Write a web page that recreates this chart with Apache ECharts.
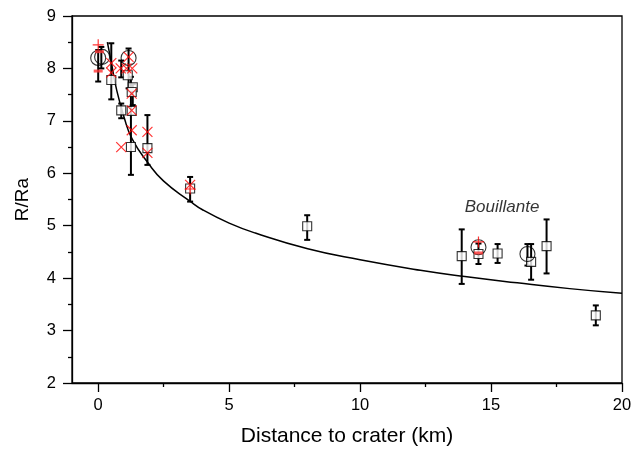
<!DOCTYPE html>
<html>
<head>
<meta charset="utf-8">
<script src="https://cdn.jsdelivr.net/npm/echarts@6/dist/echarts.min.js"></script>
<style>
  html, body { margin: 0; padding: 0; background: #fff; }
  #main { width: 643px; height: 449px; }
</style>
</head>
<body>
<div id="main"></div>
<script>
// open squares
var sqX = [0.5, 0.88, 1.13, 1.32, 1.28, 1.28, 1.25, 1.88, 3.51, 7.98, 13.88, 14.52, 15.25, 16.53, 17.12, 19.0];
var sqY = [7.78, 7.2, 7.87, 7.64, 7.55, 7.19, 6.5, 6.48, 5.71, 4.99, 4.42, 4.46, 4.47, 4.31, 4.61, 3.29];

// open circles
var ciX = [0.0, 0.15, 1.16, 14.52, 16.39];
var ciY = [8.2, 8.22, 8.2, 4.59, 4.46];

// red crosses (x)
var crX = [0.5, 0.5, 0.86, 1.08, 1.3, 1.16, 1.28, 1.28, 1.28, 0.88, 1.88, 1.88, 3.51];
var crY = [8.1, 7.92, 8.0, 8.0, 8.0, 8.22, 7.52, 7.2, 6.82, 6.5, 6.79, 6.39, 5.78];

// red plus
var plX = [0.0, 3.51, 14.52];
var plY = [8.45, 5.7, 4.69];

// red dashes
var dsX = [0.0, 0.05, 14.52];
var dsY = [7.95, 8.32, 4.48];

// error bars
var errX  = [0.0, 0.12, 0.5, 0.88, 0.88, 1.16, 1.25, 1.32, 1.88, 3.51, 7.98, 13.88, 14.52, 15.25, 16.39, 16.53, 17.12, 19.0];
var errLo = [7.75, 8.0, 7.41, 7.83, 7.05, 7.62, 5.97, 7.3, 6.16, 5.46, 4.73, 3.89, 4.27, 4.29, 4.24, 3.97, 4.09, 3.10];
var errHi = [8.35, 8.41, 8.48, 8.15, 7.33, 8.38, 7.84, 7.7, 7.11, 5.93, 5.2, 4.93, 4.66, 4.65, 4.65, 4.65, 5.12, 3.48];

// fitted curve
var fitX = [0.35, 0.5, 0.7, 1.0, 1.3, 1.9, 2.5, 3.5, 4.0, 5.0, 6.0, 8.0, 10.0, 12.3, 14.0, 16.0, 18.0, 20.0];
var fitY = [8.5, 8.12, 7.6, 7.05, 6.65, 6.2, 5.85, 5.47, 5.3, 5.05, 4.86, 4.56, 4.35, 4.15, 4.03, 3.91, 3.8, 3.71];

var xLabels = [0, 5, 10, 15, 20];
var xMinor = [2.5, 7.5, 12.5, 17.5];

function pairs(xs, ys) {
  return xs.map(function(x, i) { return [x, ys[i]]; });
}

var font = 'Liberation Sans, Arial, sans-serif';
var myChart = echarts.init(document.getElementById('main'));

var option = {
  animation: false,
  grid: { left: 72, right: 21, top: 16, bottom: 66, show: true, borderColor: '#000', borderWidth: 1.3,
    outerBoundsMode: 'none', containLabel: false },
  xAxis: [{
    type: 'value', min: -1, max: 20,
    name: 'Distance to crater (km)', nameLocation: 'middle', nameGap: 43,
    nameTextStyle: { fontSize: 21, color: '#000', fontFamily: font },
    axisLine: { onZero: false, lineStyle: { color: '#000', width: 1.3 } },
    axisTick: { show: true, length: 9, customValues: xLabels, lineStyle: { color: '#000', width: 1.3 } },
    axisLabel: { customValues: xLabels, fontSize: 16.5, color: '#000', fontFamily: font, margin: 14 },
    splitLine: { show: false }
  }, {
    type: 'value', min: -1, max: 20, position: 'bottom', offset: 0,
    axisLine: { show: false, onZero: false },
    axisTick: { show: true, length: 4, customValues: xMinor, lineStyle: { color: '#000', width: 1.3 } },
    axisLabel: { show: false },
    splitLine: { show: false }
  }],
  yAxis: {
    type: 'value', min: 2, max: 9, interval: 1,
    name: 'R/Ra', nameLocation: 'middle', nameGap: 40,
    nameTextStyle: { fontSize: 19, color: '#000', fontFamily: font },
    axisLine: { show: true, onZero: false, lineStyle: { color: '#000', width: 1.3 } },
    axisTick: { show: true, length: 9, lineStyle: { color: '#000', width: 1.3 } },
    minorTick: { show: true, splitNumber: 2, length: 4, lineStyle: { color: '#000', width: 1.3 } },
    axisLabel: { fontSize: 16.5, color: '#000', fontFamily: font, margin: 16 },
    splitLine: { show: false }
  },
  series: [
    {
      type: 'line', data: pairs(fitX, fitY), smooth: true, showSymbol: false,
      lineStyle: { color: '#000', width: 1.5 }, z: 2
    },
    {
      type: 'custom', data: errX.map(function(x, i) { return [x, errLo[i], errHi[i]]; }),
      renderItem: function(params, api) {
        var lo = api.coord([api.value(0), api.value(1)]);
        var hi = api.coord([api.value(0), api.value(2)]);
        var s = { stroke: '#000', lineWidth: 2 };
        return { type: 'group', children: [
          { type: 'line', shape: { x1: lo[0], y1: lo[1], x2: hi[0], y2: hi[1] }, style: s },
          { type: 'line', shape: { x1: lo[0] - 3, y1: lo[1], x2: lo[0] + 3, y2: lo[1] }, style: s },
          { type: 'line', shape: { x1: hi[0] - 3, y1: hi[1], x2: hi[0] + 3, y2: hi[1] }, style: s }
        ] };
      },
      z: 3
    },
    {
      type: 'scatter', data: pairs(sqX, sqY), symbol: 'rect', symbolSize: 9,
      itemStyle: { color: '#fff', borderColor: '#000', borderWidth: 1.1 }, z: 4
    },
    {
      type: 'scatter', data: pairs(ciX, ciY), symbol: 'circle', symbolSize: 15,
      itemStyle: { color: 'rgba(255,255,255,0)', borderColor: '#000', borderWidth: 1.1 }, z: 4
    },
    {
      type: 'scatter', data: pairs(crX, crY), symbol: 'path://M0,0L10,10M10,0L0,10', symbolSize: 10,
      itemStyle: { color: 'none', borderColor: '#f00', borderWidth: 1.2 }, z: 5
    },
    {
      type: 'scatter', data: pairs(plX, plY), symbol: 'path://M5,0L5,10M0,5L10,5', symbolSize: 11,
      itemStyle: { color: 'none', borderColor: '#f00', borderWidth: 1.2 }, z: 5
    },
    {
      type: 'scatter', data: pairs(dsX, dsY), symbol: 'rect', symbolSize: [9, 3],
      itemStyle: { color: '#f33' }, z: 5
    },
    {
      type: 'scatter', data: [[15.42, 5.35]], symbolSize: 0, silent: true,
      label: { show: true, position: 'inside', formatter: 'Bouillante', fontStyle: 'italic',
        fontSize: 17, color: '#000', fontFamily: font }
    }
  ]
};

myChart.setOption(option);
</script>
</body>
</html>
